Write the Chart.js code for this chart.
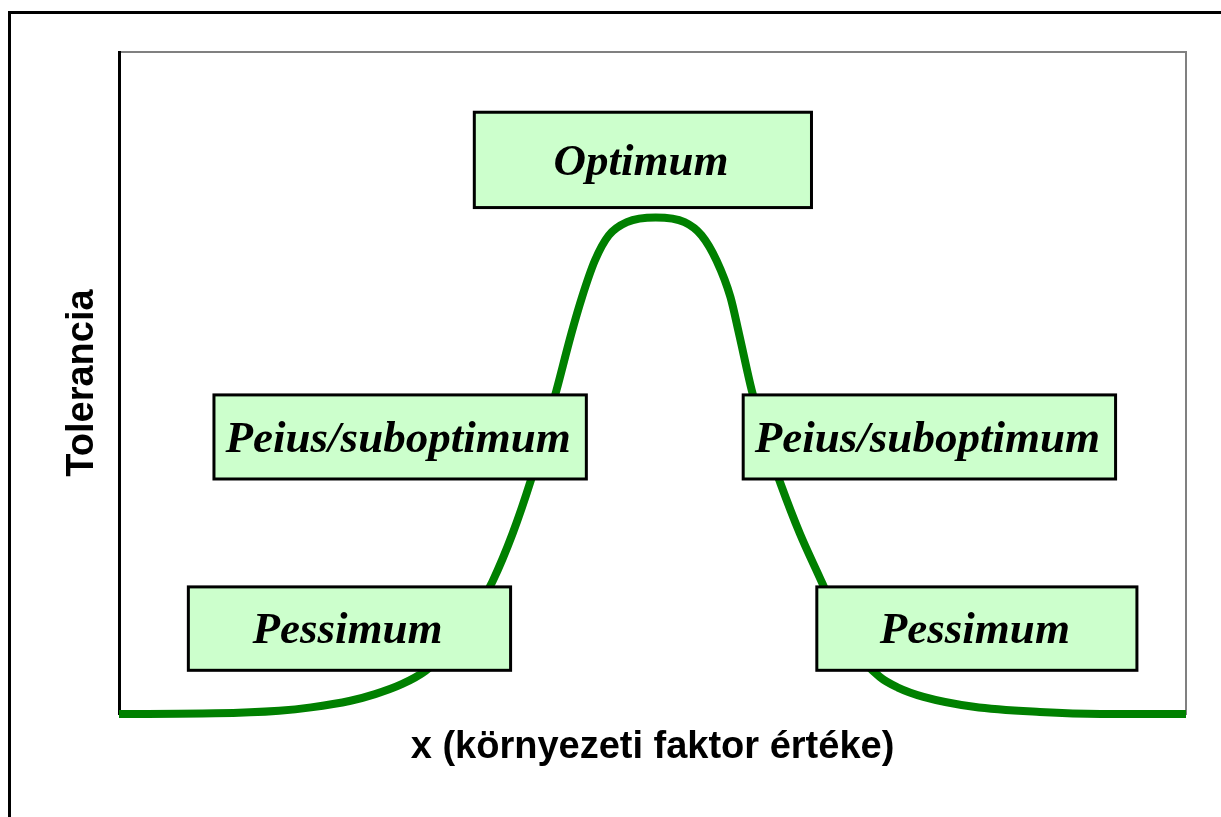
<!DOCTYPE html>
<html>
<head>
<meta charset="utf-8">
<script src="https://cdn.jsdelivr.net/npm/chart.js@4.4.1/dist/chart.umd.min.js"></script>
<style>
    html, body { margin: 0; padding: 0; background: #fff; overflow: hidden; }
    #frame { position: absolute; left: 8px; top: 11px; width: 1300px; height: 1000px; border-left: 3px solid #000; border-top: 3px solid #000; }
    #wrap { position: absolute; left: 0; top: 0; width: 1221px; height: 817px; }
</style>
</head>
<body>
<div id="frame"></div>
<div id="wrap"><canvas id="toleranceChart" width="1221" height="817"></canvas></div>
<script>
// environmental factor (0-100) and tolerance (0-100)
const factorValues = [0, 9, 15, 18, 21.7, 24, 26.5, 28.7, 31, 33.3, 35, 36.9, 38.6, 39.7, 41, 42.4, 43.4, 44.6, 45.9, 47.6, 50.3,
    53.0, 54.6, 56.0, 57.3, 58.1, 59.3, 60.6, 62.0, 63.8, 65.9, 67.2, 68.8, 71.3, 73.0, 75.4, 80.1, 86.3, 92, 100];
const toleranceValues = [0, 0.1, 0.5, 1, 2, 3, 4.5, 6.5, 10, 15, 20, 27.3, 35.3, 41.3, 48.9, 57.5, 63, 68.5, 72.3, 74.3, 75,
    74.3, 72.3, 68.5, 63, 57.5, 48.9, 41.3, 34.8, 27.3, 19.8, 15, 10, 5.6, 4.0, 2.6, 1.1, 0.3, 0, 0];

const zoneLabels = ['Optimum', 'Peius/suboptimum', 'Peius/suboptimum', 'Pessimum', 'Pessimum'];

// label boxes, in axis units
const zoneBoxes = [
    { x0: 33.3, x1: 64.9, y0: 76.5, y1: 90.9 },
    { x0: 8.9, x1: 43.8, y0: 35.5, y1: 48.2 },
    { x0: 58.5, x1: 93.4, y0: 35.5, y1: 48.2 },
    { x0: 6.5, x1: 36.7, y0: 6.6, y1: 19.2 },
    { x0: 65.4, x1: 95.4, y0: 6.6, y1: 19.2 }
];

Chart.defaults.font.family = '"Liberation Sans", Arial, sans-serif';
Chart.defaults.color = '#000';

const zoneBoxPlugin = {
    id: 'zoneBoxes',
    afterDatasetsDraw(chart) {
        const ctx = chart.ctx;
        const xs = chart.scales.x;
        const ys = chart.scales.y;
        ctx.save();
        zoneBoxes.forEach((b, i) => {
            const left = xs.getPixelForValue(b.x0);
            const right = xs.getPixelForValue(b.x1);
            const top = ys.getPixelForValue(b.y1);
            const bottom = ys.getPixelForValue(b.y0);
            ctx.fillStyle = '#ccffcc';
            ctx.fillRect(left, top, right - left, bottom - top);
            ctx.lineWidth = 3;
            ctx.strokeStyle = '#000';
            ctx.strokeRect(left, top, right - left, bottom - top);
            ctx.fillStyle = '#000';
            ctx.font = 'italic bold 45px "Liberation Serif", "Times New Roman", serif';
            ctx.textAlign = 'center';
            ctx.textBaseline = 'middle';
            ctx.fillText(zoneLabels[i], (left + right) / 2 - 2, (top + bottom) / 2 + 3);
        });
        ctx.restore();
    }
};

const points = factorValues.map((x, i) => ({ x: x, y: toleranceValues[i] }));

new Chart('toleranceChart', {
    type: 'line',
    data: {
        datasets: [{
            data: points,
            borderColor: '#008000',
            borderWidth: 8,
            pointRadius: 0,
            cubicInterpolationMode: 'monotone',
            clip: false
        }]
    },
    options: {
        responsive: false,
        animation: false,
        layout: { padding: { left: 0, top: 52, right: 35, bottom: 0 } },
        plugins: { legend: { display: false }, tooltip: { enabled: false } },
        scales: {
            x: {
                type: 'linear', position: 'bottom', min: 0, max: 100,
                grid: { display: false }, border: { display: false }, ticks: { display: false },
                title: {
                    display: true, text: 'x (környezeti faktor értéke)',
                    font: { size: 38, weight: 'bold' }, padding: { top: 0, bottom: 47 }
                },
                afterFit: s => { s.height = 103; }
            },
            x2: {
                type: 'linear', position: 'top', min: 0, max: 100,
                grid: { display: false }, border: { color: '#808080', width: 2 }, ticks: { display: false },
                afterFit: s => { s.height = 0; }
            },
            y: {
                type: 'linear', position: 'left', min: 0, max: 100,
                grid: { display: false }, border: { color: '#000', width: 3 }, ticks: { display: false },
                title: {
                    display: true, text: 'Tolerancia',
                    font: { size: 38, weight: 'bold' }, padding: { top: 60, bottom: 0 }
                },
                afterFit: s => { s.width = 119; }
            },
            y2: {
                type: 'linear', position: 'right', min: 0, max: 100,
                grid: { display: false }, border: { color: '#808080', width: 2 }, ticks: { display: false },
                afterFit: s => { s.width = 0; }
            }
        }
    },
    plugins: [zoneBoxPlugin]
});
</script>
</body>
</html>
